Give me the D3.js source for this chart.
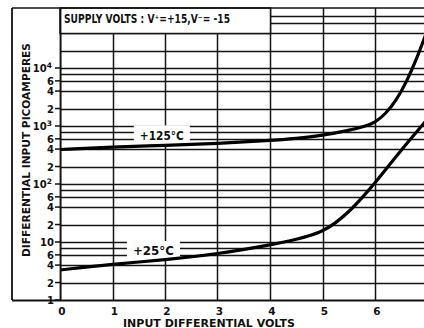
<!DOCTYPE html>
<html>
<head>
<meta charset="utf-8">
<script src="https://cdn.jsdelivr.net/npm/d3@7"></script>
<style>
  body { margin: 0; background: #fff; }
  text { font-family: "DejaVu Sans", sans-serif; font-weight: bold; fill: #111; }
</style>
</head>
<body>
<svg id="chart" width="424" height="328"></svg>
<script>
// input differential volts where the curves were read
const volts125 = [0, 1, 2, 3, 4, 4.5, 5, 5.5, 5.8, 6, 6.2, 6.4, 6.6, 6.8, 7];
const current125 = [393, 435, 461, 499, 562, 609, 686, 836, 980, 1148, 1610, 2700, 5740, 14900, 45200];

const volts25 = [0, 1, 2, 3, 4, 4.5, 5, 5.25, 5.5, 5.75, 6, 6.25, 6.5, 6.75, 7];
const current25 = [3.29, 4.18, 4.89, 6.21, 8.9, 11.0, 14.9, 21.3, 32.9, 57.4, 104, 200, 386, 713, 1320];

// grid + ticks
const xTicks = [0, 1, 2, 3, 4, 5, 6, 7];
const gridMultipliers = [1, 2, 4, 6, 8];
const decades = [1, 10, 100, 1000, 10000];
const yLabelValues = [1, 2, 4, 6, 10, 20, 40, 60, 100, 200, 400, 600, 1000, 2000, 4000, 6000, 10000];
const yLabelBase = ["1", "2", "4", "6", "10", "2", "4", "6", "10", "2", "4", "6", "10", "2", "4", "6", "10"];
const yLabelSup = ["", "", "", "", "", "", "", "", "2", "", "", "", "3", "", "", "", "4"];

const curveLabels = [
  { text: "+125°C", v: 1.94, i: 690, w: 56 },
  { text: "+25°C", v: 1.78, i: 7.0, w: 53 }
];

const W = 424, H = 328;
const plotLeft = 60, plotTop = 8, plotBottom = 300, frameLeft = 12;

const svg = d3.select("#chart");

const x = d3.scaleLinear().domain([0, 7]).range([plotLeft, 427.5]);
const y = d3.scaleLog().domain([1, 1e5]).range([plotBottom, plotBottom - 5 * 58]);

// clip for the plot area
svg.append("clipPath").attr("id", "plot")
  .append("rect").attr("x", plotLeft).attr("y", plotTop).attr("width", W - plotLeft).attr("height", plotBottom - plotTop);

const grid = svg.append("g").attr("clip-path", "url(#plot)")
  .attr("stroke", "#151515").attr("stroke-width", 1.5);

// horizontal grid lines
const gridValues = [];
decades.forEach(d => gridMultipliers.forEach(m => { if (d * m > 1) gridValues.push(d * m); }));
grid.selectAll("line.h").data(gridValues).join("line")
  .attr("class", "h")
  .attr("x1", plotLeft).attr("x2", W)
  .attr("y1", d => Math.round(y(d)) + 0.5).attr("y2", d => Math.round(y(d)) + 0.5);

// vertical grid lines
grid.selectAll("line.v").data(xTicks).join("line")
  .attr("class", "v")
  .attr("x1", d => Math.round(x(d)) + 0.5).attr("x2", d => Math.round(x(d)) + 0.5)
  .attr("y1", plotTop).attr("y2", plotBottom);

// supply volts box (covers upper-left grid, from V=0 to V=4, down to 4x10^4)
const boxBottom = Math.round(y(40000)) + 0.5;
svg.append("rect")
  .attr("x", plotLeft).attr("y", plotTop)
  .attr("width", Math.round(x(4)) - plotLeft + 0.5).attr("height", boxBottom - plotTop)
  .attr("fill", "#fff").attr("stroke", "#151515").attr("stroke-width", 1.5);
svg.append("text")
  .attr("x", 64).attr("y", 22.5)
  .attr("font-size", 11.5)
  .attr("textLength", 166).attr("lengthAdjust", "spacingAndGlyphs")
  .text("SUPPLY VOLTS : V⁺=+15,V⁻= -15");

// curve labels with white patches breaking the grid
const lab = svg.append("g");
curveLabels.forEach(c => {
  const cx = x(c.v), cy = y(c.i);
  lab.append("rect")
    .attr("x", cx - c.w / 2).attr("y", cy - 10)
    .attr("width", c.w).attr("height", 19)
    .attr("fill", "#fff");
  lab.append("text")
    .attr("x", cx).attr("y", cy + 4.5)
    .attr("text-anchor", "middle")
    .attr("font-size", 11.5)
    .attr("textLength", c.w - 12).attr("lengthAdjust", "spacingAndGlyphs")
    .text(c.text);
});

// curves
const line = d3.line()
  .x(d => x(d[0]))
  .y(d => y(d[1]))
  .curve(d3.curveBasis);

const curves = svg.append("g").attr("clip-path", "url(#plot)")
  .attr("fill", "none").attr("stroke", "#000").attr("stroke-width", 3.2)
  .attr("stroke-linecap", "round");
curves.append("path").attr("d", line(d3.zip(volts125, current125)));
curves.append("path").attr("d", line(d3.zip(volts25, current25)));

// frame
const frame = svg.append("g").attr("stroke", "#111").attr("fill", "none");
frame.append("line").attr("x1", frameLeft).attr("x2", W).attr("y1", plotTop).attr("y2", plotTop).attr("stroke-width", 1.5);
frame.append("line").attr("x1", frameLeft).attr("x2", frameLeft).attr("y1", plotTop).attr("y2", plotBottom).attr("stroke-width", 1.8);
frame.append("line").attr("x1", frameLeft).attr("x2", W).attr("y1", plotBottom + 0.5).attr("y2", plotBottom + 0.5).attr("stroke-width", 2.2);
frame.append("line").attr("x1", plotLeft + 0.5).attr("x2", plotLeft + 0.5).attr("y1", plotTop).attr("y2", plotBottom).attr("stroke-width", 1.8);

// y tick labels
const yl = svg.append("g");
yLabelValues.forEach((v, i) => {
  const yy = y(v);
  yl.append("line")
    .attr("x1", 55).attr("x2", plotLeft).attr("y1", yy).attr("y2", yy)
    .attr("stroke", "#111").attr("stroke-width", 1.5);
  const t = yl.append("text")
    .attr("x", yLabelSup[i] ? 52 : 54).attr("y", yy + 4)
    .attr("text-anchor", "end")
    .attr("font-size", 10);
  t.append("tspan").text(yLabelBase[i]);
  if (yLabelSup[i]) {
    t.append("tspan").attr("dy", -4).attr("font-size", 7.5).text(yLabelSup[i]);
  }
});

// x tick labels
svg.append("g").selectAll("text").data(xTicks.filter(d => d < 7)).join("text")
  .attr("x", d => x(d) + 2).attr("y", 314.5)
  .attr("text-anchor", "middle")
  .attr("font-size", 10.5)
  .text(d => d);

// axis titles
svg.append("text")
  .attr("x", 209).attr("y", 326.5)
  .attr("text-anchor", "middle")
  .attr("font-size", 11)
  .attr("textLength", 172).attr("lengthAdjust", "spacingAndGlyphs")
  .text("INPUT DIFFERENTIAL VOLTS");

svg.append("text")
  .attr("transform", "translate(30,150) rotate(-90)")
  .attr("text-anchor", "middle")
  .attr("font-size", 11)
  .attr("textLength", 214).attr("lengthAdjust", "spacingAndGlyphs")
  .text("DIFFERENTIAL INPUT PICOAMPERES");
</script>
</body>
</html>
